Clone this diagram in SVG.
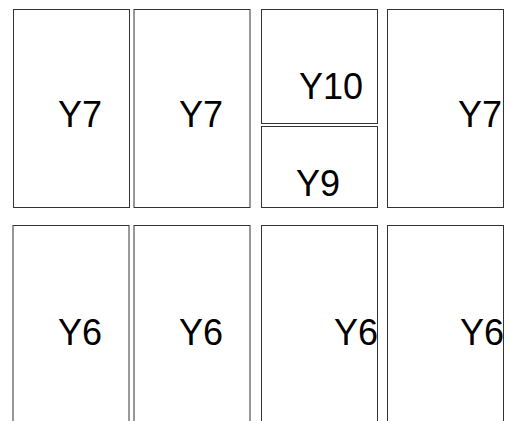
<svg xmlns="http://www.w3.org/2000/svg" width="509" height="421" viewBox="0 0 509 421">
<style>
.box{fill:#fff;stroke:#333;stroke-width:1}
.lbl{font-family:"Liberation Sans",Arial,sans-serif;font-size:36px;fill:#000}
</style>
<rect width="509" height="421" fill="#fff"/>
<g id="connectors"></g>
<g id="n1"><rect class="box" x="13.5" y="9.5" width="116" height="198"/><text class="lbl" x="58" y="127">Y7</text></g>
<g id="n2"><rect class="box" x="134" y="9.5" width="116" height="198"/><text class="lbl" x="179" y="127">Y7</text></g>
<g id="n3"><rect class="box" x="261.5" y="9.5" width="116" height="114"/><text class="lbl" x="299" y="99">Y10</text></g>
<g id="n4"><rect class="box" x="261.5" y="126.5" width="116" height="81"/><text class="lbl" x="296" y="196">Y9</text></g>
<g id="n5"><rect class="box" x="387.5" y="9.5" width="116" height="198"/><text class="lbl" x="458" y="127">Y7</text></g>
<g id="n6"><rect class="box" x="13" y="225.5" width="116" height="210"/><text class="lbl" x="58" y="345">Y6</text></g>
<g id="n7"><rect class="box" x="134" y="225.5" width="116" height="210"/><text class="lbl" x="179" y="345">Y6</text></g>
<g id="n8"><rect class="box" x="261.5" y="225.5" width="116" height="210"/><text class="lbl" x="334" y="345">Y6</text></g>
<g id="n9"><rect class="box" x="387.5" y="225.5" width="116" height="210"/><text class="lbl" x="460" y="345">Y6</text></g>
</svg>
